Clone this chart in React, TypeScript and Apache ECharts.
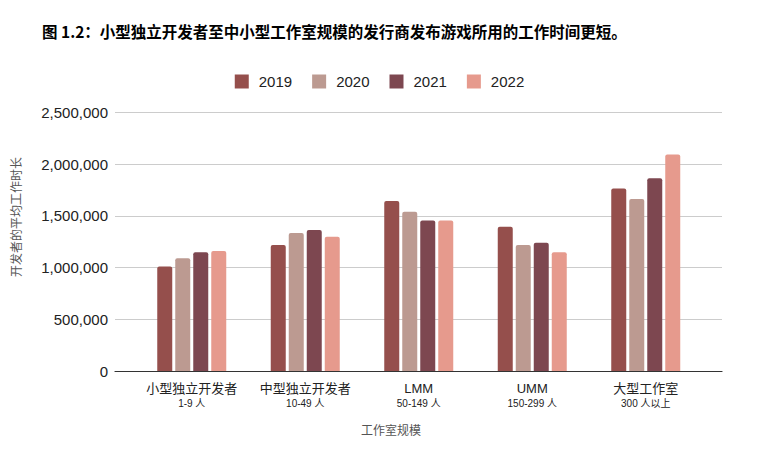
import React, { useEffect, useRef } from "react";
import * as echarts from "echarts";

const categories = ["小型独立开发者", "中型独立开发者", "LMM", "UMM", "大型工作室"];
const subLabels = ["1-9 人", "10-49 人", "50-149 人", "150-299 人", "300 人以上"];
const years = ["2019", "2020", "2021", "2022"];
const s2019 = [1010000, 1220000, 1645000, 1395000, 1765000];
const s2020 = [1090000, 1335000, 1540000, 1220000, 1665000];
const s2021 = [1150000, 1365000, 1455000, 1240000, 1865000];
const s2022 = [1160000, 1300000, 1455000, 1150000, 2095000];
const seriesValues = [s2019, s2020, s2021, s2022];
const colors = ["#954f4c", "#bc9a91", "#7d4750", "#e69a8d"];
const yTicks = [0, 500000, 1000000, 1500000, 2000000, 2500000];

const FONT = "'Liberation Sans', 'Noto Sans CJK SC', sans-serif";

export default function App() {
  const ref = useRef<HTMLDivElement>(null);
  useEffect(() => {
    if (!ref.current) return;
    const chart = echarts.init(ref.current, undefined, { renderer: "svg" });
    const yMax = yTicks[yTicks.length - 1];
    const yStep = yTicks[1] - yTicks[0];
    chart.setOption({
      animation: false,
      backgroundColor: "#ffffff",
      textStyle: { fontFamily: FONT },
      title: {
        text: "图 1.2：小型独立开发者至中小型工作室规模的发行商发布游戏所用的工作时间更短。",
        left: 37,
        top: 18,
        textStyle: {
          fontSize: 15.5,
          fontWeight: "bold",
          color: "#000000",
          fontFamily: "'Noto Sans CJK SC', sans-serif",
        },
      },
      legend: {
        data: years,
        left: "center",
        top: 69,
        icon: "rect",
        itemWidth: 14,
        itemHeight: 14,
        itemGap: 20,
        textStyle: { fontSize: 15, color: "#222222", padding: [0, 0, 0, 5], fontFamily: FONT },
      },
      grid: [
        { left: 115, right: 37, top: 112.6, bottom: 85, containLabel: false },
        { left: 135, right: 56.5, top: 112.6, bottom: 85, containLabel: false },
      ],
      xAxis: [
        {
          type: "category",
          gridIndex: 0,
          data: categories,
          z: 5,
          axisLine: { show: true, lineStyle: { color: "#333333", width: 1.2 } },
          axisTick: { show: false },
          axisLabel: { show: false },
          splitLine: { show: false },
        },
        {
          type: "category",
          gridIndex: 1,
          data: categories,
          axisLine: { show: false },
          axisTick: { show: false },
          splitLine: { show: false },
          axisLabel: {
            margin: 9,
            interval: 0,
            formatter: (v: string, i: number) => `{a|${v}}\n{b|${subLabels[i]}}`,
            rich: {
              a: { fontSize: 13, lineHeight: 16, color: "#222222", fontFamily: FONT },
              b: { fontSize: 10, lineHeight: 14, color: "#222222", fontFamily: FONT },
            },
          },
        },
      ],
      yAxis: [
        {
          type: "value",
          gridIndex: 0,
          min: 0,
          max: yMax,
          interval: yStep,
          axisLine: { show: false },
          axisTick: { show: false },
          axisLabel: {
            margin: 7,
            fontSize: 15,
            color: "#222222",
            fontFamily: FONT,
            formatter: (v: number) => v.toLocaleString("en-US"),
          },
          splitLine: { show: true, lineStyle: { color: "#cccccc", width: 1 } },
        },
        {
          type: "value",
          gridIndex: 1,
          min: 0,
          max: yMax,
          interval: yStep,
          show: false,
          splitLine: { show: false },
        },
      ],
      graphic: [
        {
          type: "text",
          x: 391,
          y: 431,
          style: {
            text: "工作室规模",
            fontSize: 12,
            fill: "#555555",
            align: "center",
            verticalAlign: "middle",
            fontFamily: FONT,
          },
        },
        {
          type: "text",
          x: 17,
          y: 217,
          rotation: Math.PI / 2,
          style: {
            text: "开发者的平均工作时长",
            fontSize: 12,
            fill: "#555555",
            align: "center",
            verticalAlign: "middle",
            fontFamily: FONT,
          },
        },
      ],
      series: years.map((y, i) => ({
        name: y,
        type: "bar",
        xAxisIndex: 1,
        yAxisIndex: 1,
        data: seriesValues[i],
        barWidth: 15,
        barGap: "20%",
        itemStyle: { color: colors[i], borderRadius: [2, 2, 0, 0] },
      })),
    });
    return () => chart.dispose();
  }, []);
  return (
    <div
      ref={ref}
      style={{ position: "fixed", left: 0, top: 0, width: 759, height: 456 }}
    />
  );
}
